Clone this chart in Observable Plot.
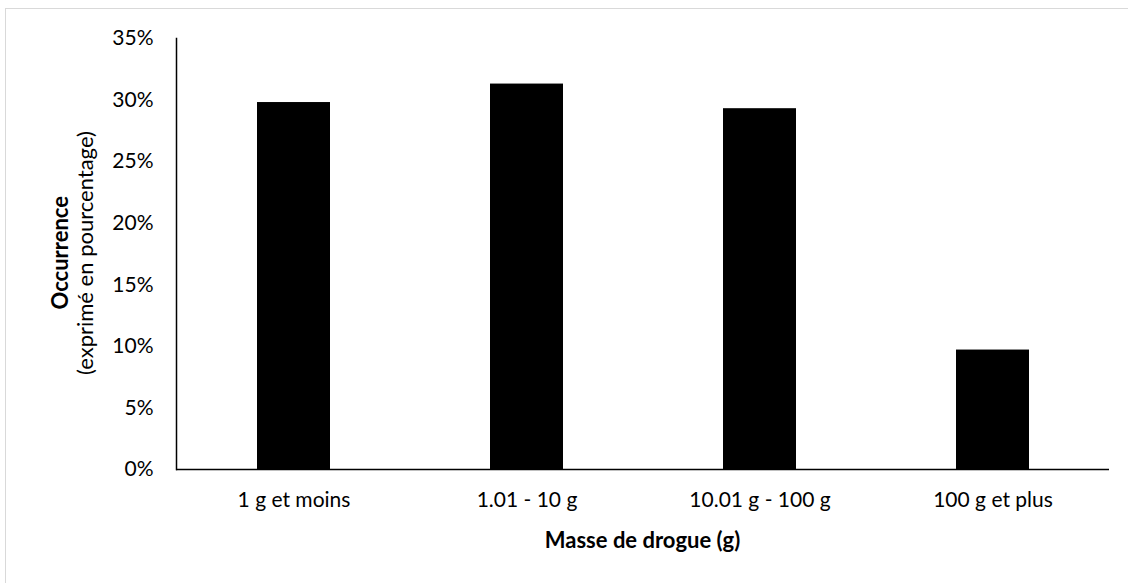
<!DOCTYPE html>
<html>
<head>
<meta charset="utf-8">
<script src="https://cdn.jsdelivr.net/npm/d3@7"></script>
<script src="https://cdn.jsdelivr.net/npm/@observablehq/plot@0.6"></script>
<style>
  html, body { margin: 0; padding: 0; background: #fff; }
  #wrap { position: relative; width: 1128px; height: 583px; overflow: hidden; font-family: Lato, "Noto Sans", sans-serif; }
  #border { position: absolute; left: 5px; top: 8px; width: 1140px; height: 600px; border: 1px solid #d9d9d9; box-sizing: border-box; }
  .ytitle { position: absolute; left: 0; top: 0; white-space: nowrap; font-size: 22px; color: #000; transform-origin: 0 0; }
  #xtitle { position: absolute; left: 176px; width: 933px; text-align: center; top: 526px; font-size: 22px; font-weight: bold; color: #000; }
</style>
</head>
<body>
<div id="wrap">
  <div id="border"></div>
  <div id="chart"></div>
  <div id="xtitle">Masse de drogue (g)</div>
  <div class="ytitle" id="yt1" style="font-weight:bold">Occurrence</div>
  <div class="ytitle" id="yt2">(exprimé en pourcentage)</div>
</div>
<script>
const categories = ["1 g et moins", "1.01 - 10 g", "10.01 g - 100 g", "100 g et plus"];
const values = [29.8, 31.3, 29.3, 9.7];
const yTicks = [0, 5, 10, 15, 20, 25, 30, 35];

const data = categories.map((c, i) => ({category: c, value: values[i]}));

const chart = Plot.plot({
  width: 1128,
  height: 583,
  marginLeft: 176,
  marginRight: 19,
  marginTop: 38,
  marginBottom: 114,
  style: {background: "transparent", fontFamily: "Lato, 'Noto Sans', sans-serif", fontSize: "21px", color: "#000"},
  x: {domain: categories, paddingInner: 0.687, paddingOuter: 0.3435, label: null},
  y: {domain: [0, 35], label: null},
  marks: [
    Plot.barY(data, {x: "category", y: "value", fill: "#000"}),
    Plot.axisY({ticks: yTicks, tickSize: 0, tickPadding: 23, tickFormat: d => d + "%", label: null, fontSize: 21}),
    Plot.axisX({tickSize: 0, tickPadding: 23, label: null, fontSize: 21}),
    Plot.ruleY([0], {stroke: "#000", strokeWidth: 1.5}),
    Plot.frame({anchor: "left", stroke: "#000", strokeWidth: 1.5})
  ]
});
document.getElementById("chart").appendChild(chart);

// rotated y-axis titles, centred on the plot's vertical middle
function placeY(id, cx, cy) {
  const el = document.getElementById(id);
  const w = el.offsetWidth, h = el.offsetHeight;
  el.style.transform = `translate(${cx - h / 2}px, ${cy + w / 2}px) rotate(-90deg)`;
}
placeY("yt1", 59, 253);
placeY("yt2", 84, 253);
</script>
</body>
</html>
